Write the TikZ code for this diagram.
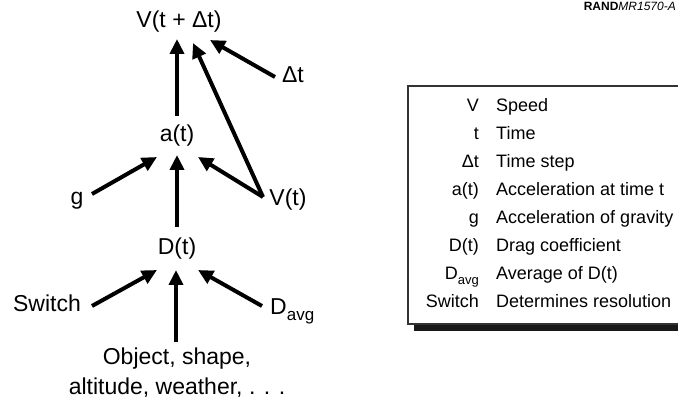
\documentclass[tikz,border=0pt]{standalone}
\usepackage{fontspec}
\setmainfont{Liberation Sans}
\usetikzlibrary{arrows.meta}
\begin{document}
\begin{tikzpicture}[x=1pt,y=-1pt,
  lbl/.style={inner sep=0pt,anchor=base,font=\fontsize{23}{30}\selectfont},
  arr/.style={line width=4pt,-{Triangle[length=15pt,width=14pt]}},
  legk/.style={inner sep=0pt,anchor=base east,font=\fontsize{18}{20}\selectfont},
  legv/.style={inner sep=0pt,anchor=base west,font=\fontsize{18}{20}\selectfont},
  tag/.style={inner sep=0pt,anchor=base east,font=\fontsize{12}{12}\selectfont}]
\useasboundingbox (0,0) rectangle (678,406);
\clip (0,0) rectangle (678,406);
% nodes
\node[lbl] (top) at (179,28) {V(t + Δt)};
\node[lbl] (dt) at (293,83) {Δt};
\node[lbl] (a) at (177,142) {a(t)};
\node[lbl] (g) at (77,205) {g};
\node[lbl] (vt) at (288,206) {V(t)};
\node[lbl] (D) at (177,255) {D(t)};
\node[lbl] (sw) at (47,312) {Switch};
\node[lbl,anchor=base west] (davg) at (270,315) {D\raisebox{-6pt}{\fontsize{17}{17}\selectfont avg}};
\node[lbl,anchor=north,align=center] (obj) at (177,348) {Object, shape,\\altitude, weather, . . .};
% connector endpoints
\coordinate (aTop) at (177,116);
\coordinate (topIn1) at (177,39);
\coordinate (topIn2) at (193,43);
\coordinate (topIn3) at (210,40);
\coordinate (dtOut) at (275,77);
\coordinate (aBot) at (177,227);
\coordinate (aIn1) at (177,155);
\coordinate (aIn2) at (157,157);
\coordinate (aIn3) at (198,157);
\coordinate (gOut) at (92,194);
\coordinate (vtOut) at (263,197);
\coordinate (DIn1) at (176,270);
\coordinate (DIn2) at (157,270);
\coordinate (DIn3) at (198,270);
\coordinate (objOut) at (176,342);
\coordinate (swOut) at (92,306);
\coordinate (davgOut) at (262,306);
% arrows
\draw[arr] (aTop) -- (topIn1);
\draw[arr] (vtOut) -- (topIn2);
\draw[arr] (dtOut) -- (topIn3);
\draw[arr] (aBot) -- (aIn1);
\draw[arr] (gOut) -- (aIn2);
\draw[arr] (vtOut) -- (aIn3);
\draw[arr] (objOut) -- (DIn1);
\draw[arr] (swOut) -- (DIn2);
\draw[arr] (davgOut) -- (DIn3);
% legend
\fill[black!90] (414,323) rectangle (700,331);
\draw[line width=1.5pt,black!80,fill=white] (408,86) rectangle (700,324);
\foreach \k/\v [count=\i from 0] in {V/Speed, t/Time, Δt/Time step, a(t)/Acceleration at time t, g/Acceleration of gravity, D(t)/Drag coefficient, {D\raisebox{-5pt}{\fontsize{13}{13}\selectfont avg}}/Average of D(t), Switch/Determines resolution}{
  \node[legk] (k\i) at (479,112+28*\i) {\k};
  \node[legv] (v\i) at (496,112+28*\i) {\v};
}
\node[tag] (rand) at (676,11) {\textbf{RAND}\textit{MR1570-A}};
\end{tikzpicture}
\end{document}
